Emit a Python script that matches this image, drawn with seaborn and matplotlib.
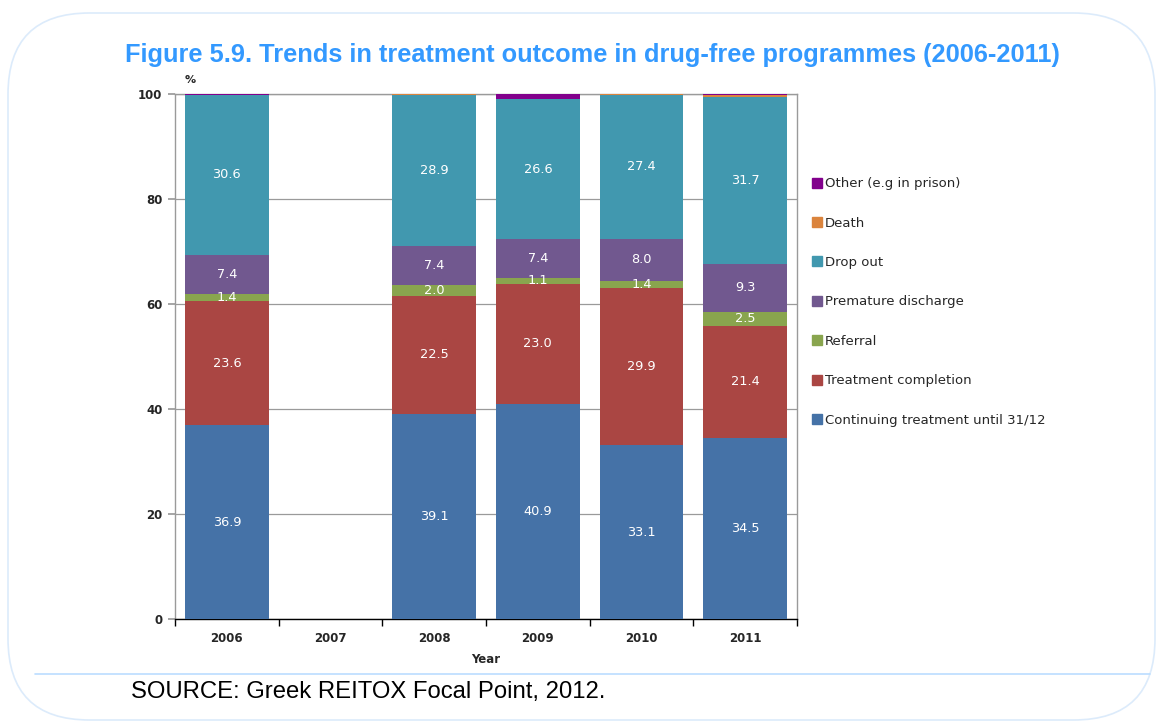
import numpy as np
import pandas as pd
import matplotlib
matplotlib.use("Agg")
import matplotlib.pyplot as plt
from matplotlib.patches import FancyBboxPatch
from matplotlib.lines import Line2D
import seaborn as sns

# Treatment outcome shares (%) by year; 2007 has no data
years = ["2006", "2007", "2008", "2009", "2010", "2011"]
data_years = ["2006", "2008", "2009", "2010", "2011"]
continuing = [36.9, 39.1, 40.9, 33.1, 34.5]
completion = [23.6, 22.5, 23.0, 29.9, 21.4]
referral = [1.4, 2.0, 1.1, 1.4, 2.5]
premature = [7.4, 7.4, 7.4, 8.0, 9.3]
dropout = [30.6, 28.9, 26.6, 27.4, 31.7]
death = [0.0, 0.2, 0.0, 0.2, 0.4]
other = [0.2, 0.0, 1.0, 0.0, 0.2]

series_names = [
    "Continuing treatment until 31/12",
    "Treatment completion",
    "Referral",
    "Premature discharge",
    "Drop out",
    "Death",
    "Other (e.g in prison)",
]
series_values = [continuing, completion, referral, premature, dropout, death, other]
series_colors = ["#4572A7", "#AA4643", "#89A54E", "#71588F", "#4198AF", "#DB843D", "#82008C"]
labelled = [True, True, True, True, True, False, False]

sns.set_theme(style="white")
plt.rcParams["font.family"] = ["DejaVu Sans"]

W, H = 1163, 724
fig = plt.figure(figsize=(W / 100, H / 100), dpi=100)
ax = fig.add_axes([175 / W, 1 - 619 / H, (797 - 175) / W, (619 - 94) / H])

df = pd.DataFrame({"year": data_years})
for name, vals in zip(series_names, series_values):
    df[name] = vals
cum = df[series_names].cumsum(axis=1)

# stacked bars: draw cumulative totals from the top layer down
for i in range(len(series_names) - 1, -1, -1):
    sns.barplot(x=df["year"], y=cum[series_names[i]], order=years,
                color=series_colors[i], saturation=1, width=0.81,
                linewidth=0, ax=ax, zorder=3)

# value labels inside segments
for i, name in enumerate(series_names):
    if not labelled[i]:
        continue
    for j, yr in enumerate(data_years):
        v = df[name].iloc[j]
        base = cum[name].iloc[j] - v
        ax.text(years.index(yr), base + v / 2, f"{v:.1f}", ha="center", va="center",
                color="white", fontsize=9.3, zorder=5)

ax.set_ylim(0, 100)
ax.set_xlim(-0.5, 5.5)
ax.set_yticks([0, 20, 40, 60, 80, 100])
ax.yaxis.grid(True, color="#9a9a9a", linewidth=0.9, zorder=0)
ax.set_axisbelow(True)
for s in ["left", "right", "top"]:
    ax.spines[s].set_color("#9a9a9a")
    ax.spines[s].set_linewidth(1.0)
ax.spines["bottom"].set_color("black")
ax.spines["bottom"].set_linewidth(1.0)
ax.tick_params(axis="y", left=True, length=5, color="#9a9a9a", labelsize=8.5, pad=4)
ax.set_xticks(range(6))
ax.set_xticklabels(years)
ax.set_xticks(np.arange(-0.5, 6.0, 1.0), minor=True)
ax.tick_params(axis="x", which="major", length=0, labelsize=8.5, pad=9)
ax.tick_params(axis="x", which="minor", bottom=True, length=5, color="black", width=1)
for lab in ax.get_yticklabels() + ax.get_xticklabels():
    lab.set_fontweight("bold")
ax.set_xlabel("Year", fontsize=8.5, fontweight="bold", labelpad=6)
ax.set_ylabel("")
fig.text(190 / W, 1 - 80 / H, "%", fontsize=8, fontweight="bold", ha="center", va="center")

# legend, top entry first
handles = [Line2D([0], [0], marker="s", linestyle="none", markersize=7,
                  markerfacecolor=c, markeredgecolor=c) for c in series_colors]
fig.legend(handles[::-1], series_names[::-1], loc="upper left",
           bbox_to_anchor=(805 / W, 1 - 172 / H), frameon=False,
           fontsize=9.5, labelspacing=2.0, handletextpad=0.1, handlelength=1.0,
           borderaxespad=0)

fig.text(592 / W, 1 - 55 / H,
         "Figure 5.9. Trends in treatment outcome in drug-free programmes (2006-2011)",
         ha="center", va="center", color="#3399FF", fontsize=18.3, fontweight="bold",
         family="Liberation Sans")

# panel frame and separator
frame = FancyBboxPatch((8 / W, 4 / H), (1155 - 8) / W, (711 - 4) / H,
                       boxstyle="round,pad=0,rounding_size=0.07",
                       transform=fig.transFigure, fill=False,
                       edgecolor="#DCEBFB", linewidth=1.2, zorder=0,
                       mutation_aspect=W / H)
fig.patches.append(frame)
fig.lines.append(Line2D([35 / W, 1150 / W], [1 - 674 / H, 1 - 674 / H],
                        transform=fig.transFigure, color="#BBDDFF", linewidth=1.2))
fig.text(131 / W, 1 - 692 / H, "SOURCE: Greek REITOX Focal Point, 2012.",
         ha="left", va="center", fontsize=17.2, family="Liberation Sans", color="black")

fig.savefig("out.png", dpi=100)
